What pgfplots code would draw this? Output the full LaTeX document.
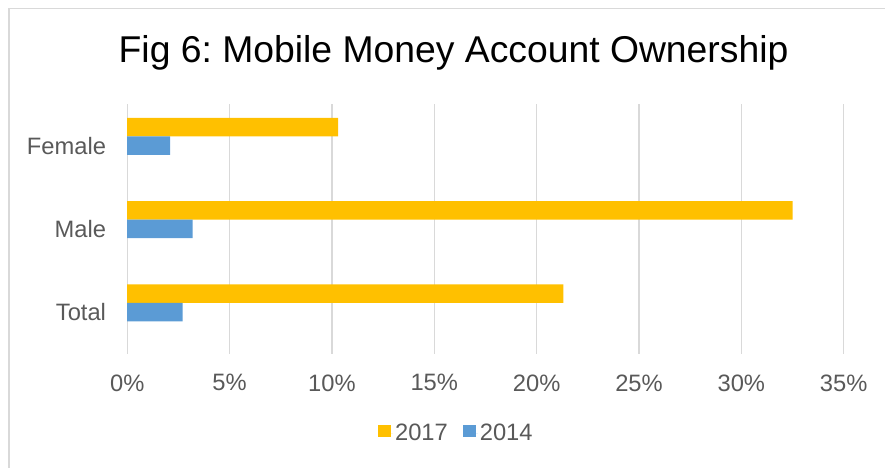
\documentclass[border=0pt]{standalone}
\usepackage{fontspec}
\setmainfont{Liberation Sans}
\usepackage{pgfplots}
\pgfplotsset{compat=1.18}
\definecolor{gold17}{HTML}{FFC000}
\definecolor{blue14}{HTML}{5B9BD5}
\definecolor{txtgray}{HTML}{595959}
\definecolor{gridgray}{HTML}{D9D9D9}
\frenchspacing
\begin{document}
\begin{tikzpicture}[x=0.75pt,y=0.75pt]
% page in px units (886 x 468), y upward
\path (0,0) rectangle (886,468);
\draw[gridgray, line width=1pt] (9,0) -- (9,459.3) -- (886,459.3);
\node[font=\fontsize{28}{32}\selectfont, anchor=base, inner sep=0pt] at (453.9,405.3)
  {Fig 6: Mobile Money Account Ownership};
\begin{axis}[
  at={(95.5pt,85.5pt)}, anchor=south west,
  scale only axis, width=537.75pt, height=187.5pt,
  xmin=0, xmax=35, ymin=-0.5, ymax=2.5,
  xtick={0,5,...,35},
  xticklabels={0\%,5\%,10\%,15\%,20\%,25\%,30\%,35\%},
  ytick={0,1,2}, yticklabels={Total,Male,Female},
  xmajorgrids, grid style={gridgray, line width=1pt},
  axis line style={draw=none},
  major tick length=0pt,
  tick label style={font=\fontsize{17.8}{20}\selectfont, text=txtgray, inner sep=0pt},
  xticklabel style={yshift=-15.4pt},
  yticklabel style={xshift=-15.75pt},
  bar width=0.222,
  legend style={at={(axis description cs:0.4596,-0.32)}, anchor=center,
    draw=none, fill=none, legend columns=2,
    font=\fontsize{17.8}{20}\selectfont, text=txtgray,
    nodes={inner sep=1.5pt},
    /tikz/every even column/.append style={column sep=10pt}},
  legend image code/.code={\fill[#1,draw=none] (0pt,-2.8pt) rectangle (9.4pt,6.6pt);
    \path (0pt,0pt) -- (11pt,0pt);},
]
% 2017 bars sit just above the band centre, 2014 bars on it
\addplot[xbar, bar shift=0pt, fill=gold17, draw=none] coordinates {
  (21.3,0.222) (32.5,1.222) (10.3,2.222)
};
\addlegendentry{2017}
\addplot[xbar, bar shift=0pt, fill=blue14, draw=none] coordinates {
  (2.7,0) (3.2,1) (2.1,2)
};
\addlegendentry{2014}
\end{axis}
\end{tikzpicture}
\end{document}
